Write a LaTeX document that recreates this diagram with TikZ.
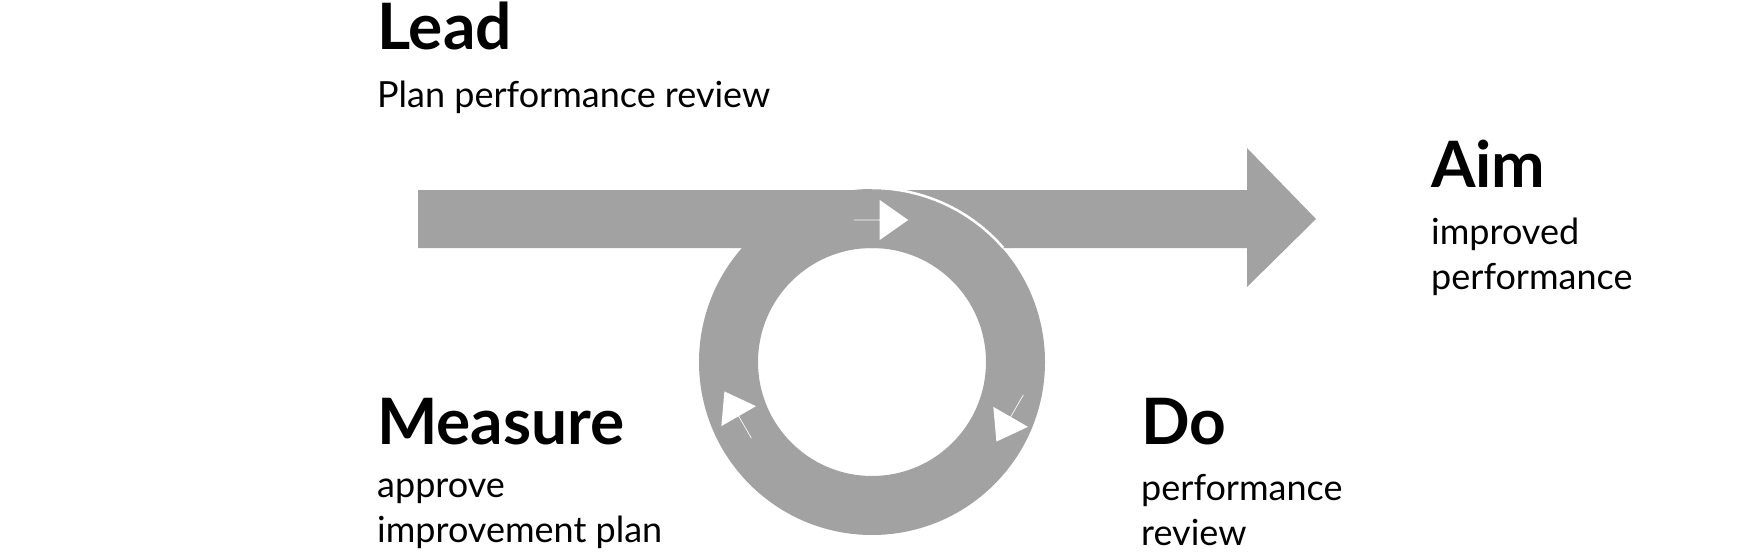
\documentclass[tikz,border=0pt]{standalone}
\usepackage{fontspec}
\setmainfont{Lato}
\usetikzlibrary{shapes.arrows}
\definecolor{loopgray}{RGB}{162,162,162}
\tikzset{
        % headings
        head/.style={anchor=base west,inner sep=0pt,font=\fontsize{64}{64}\selectfont\bfseries},
        % small lines
        body/.style={anchor=base west,inner sep=0pt,font=\fontsize{36}{36}\selectfont},
        % white arrows in the loop
        loop_arrow/.style={single arrow,fill=white,inner sep=0pt,minimum height=54pt,minimum width=40pt,single arrow head extend=12pt,single arrow tip angle=70}
}
\begin{document}
\begin{tikzpicture}[x=1pt,y=1pt]
    \useasboundingbox (0,0) rectangle (1748,-559);
    % main arrow
    \fill[loopgray] (418,-190) -- (1247,-190) -- (1247,-148) -- (1316,-219) -- (1247,-287) -- (1247,-248) -- (418,-248) -- cycle;
    % loop
    \coordinate (c) at (872,-362);
    \fill[loopgray,even odd rule] (c) circle (173) (c) circle (114);
    \draw[white,line width=2.5pt] (c) ++(0,174) arc[start angle=90,end angle=41,radius=174];
    \node[loop_arrow] (a1) at (881,-220) {};
    \node[loop_arrow,rotate=240] (a2) at (1010,-418) {};
    \node[loop_arrow,rotate=120] (a3) at (738,-415) {};
    % texts
    \node[head] (lead) at (377,-50) {Lead};
    \node[body] (leadtxt) at (377,-108) {Plan performance review};
    \node[head] (aim) at (1431,-187) {Aim};
    \node[body] (aimtxt1) at (1431,-244) {improved};
    \node[body] (aimtxt2) at (1431,-289) {performance};
    \node[head] (measure) at (377,-444) {Measure};
    \node[body] (measuretxt1) at (377,-497) {approve};
    \node[body] (measuretxt2) at (377,-542) {improvement plan};
    \node[head] (do) at (1141,-444) {Do};
    \node[body] (dotxt1) at (1141,-500) {performance};
    \node[body] (dotxt2) at (1141,-545) {review};
\end{tikzpicture}
\end{document}
